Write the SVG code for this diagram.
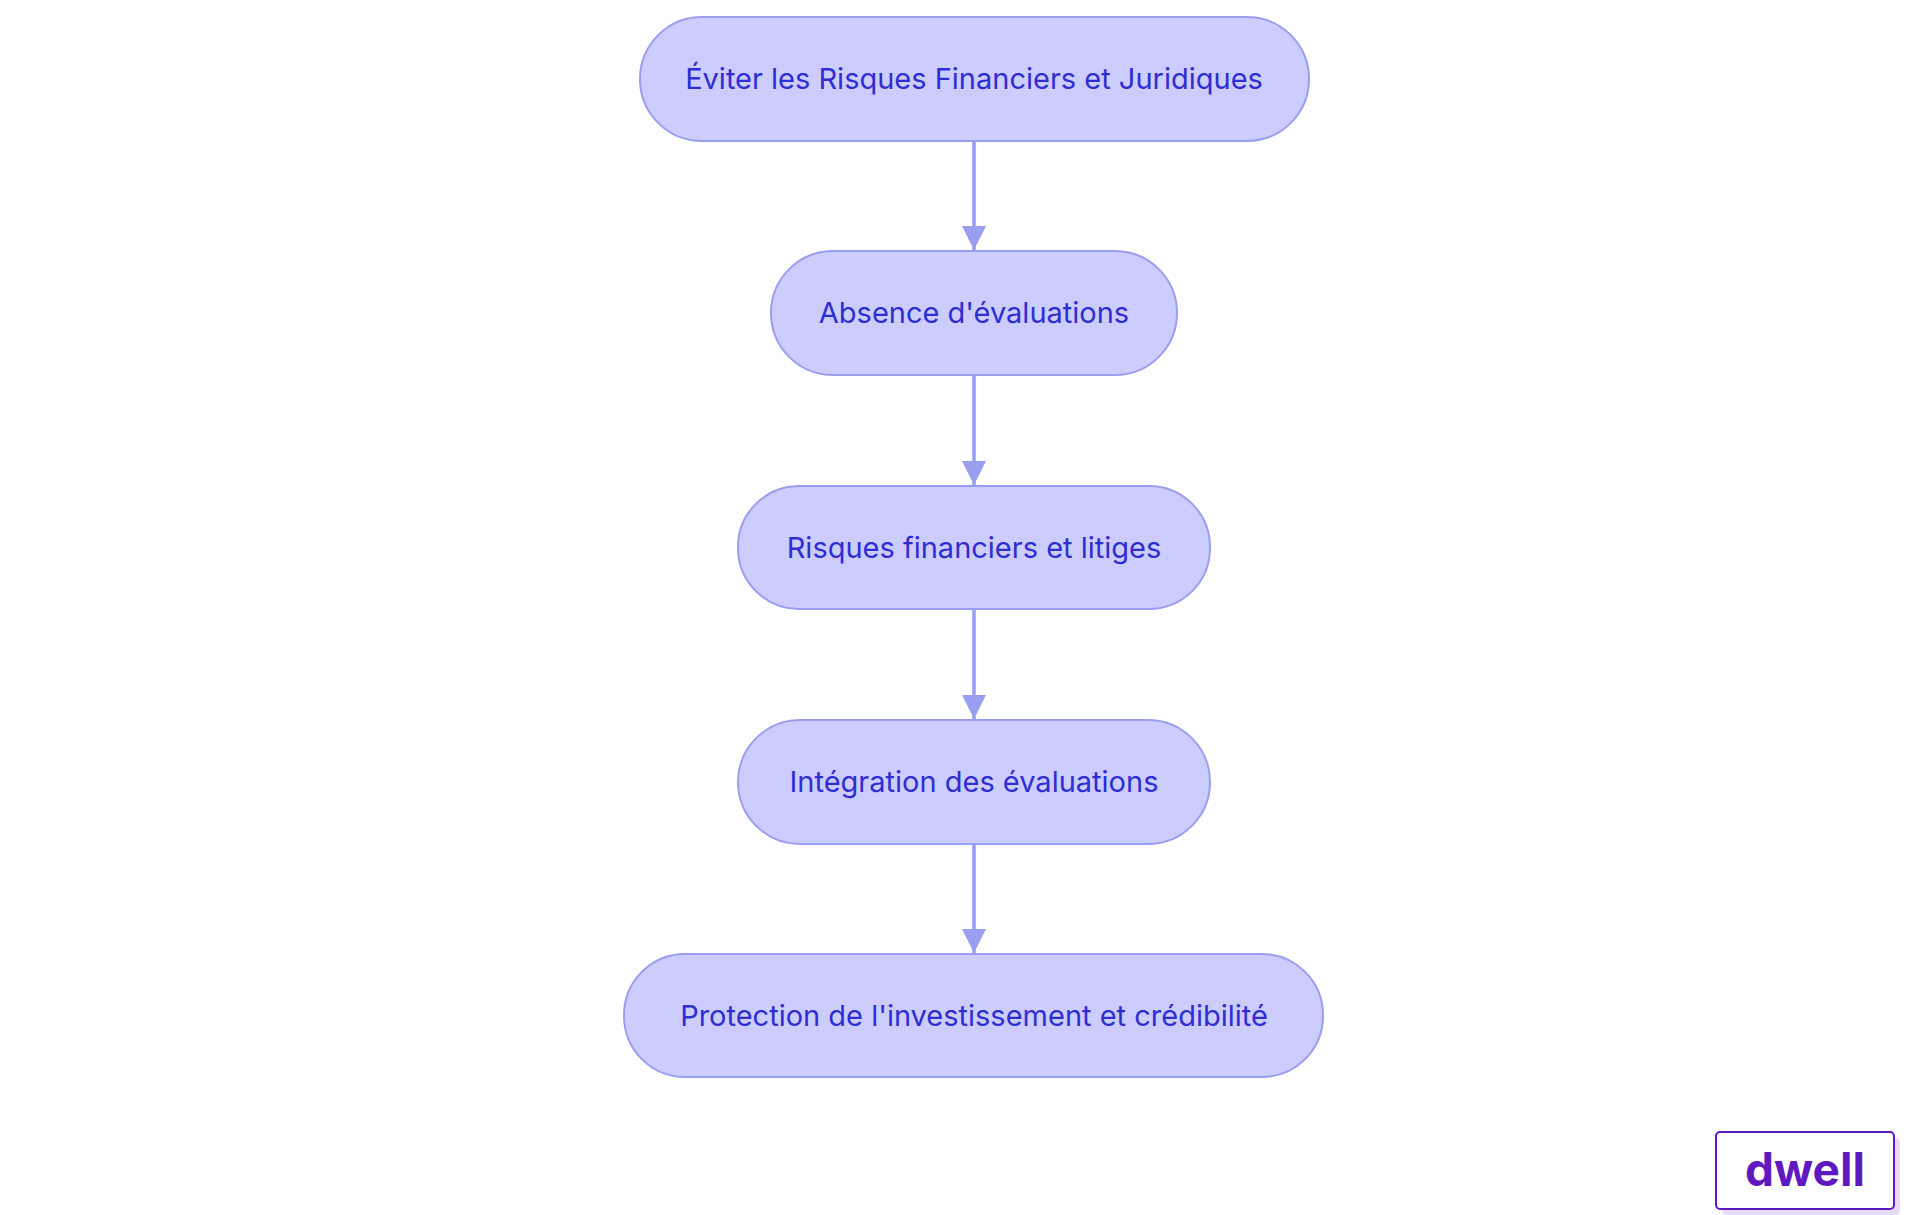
<svg xmlns="http://www.w3.org/2000/svg" width="1920" height="1215" viewBox="0 0 1920 1215">
<style>
.n rect{fill:#ccccff;stroke:#9a9ef0;stroke-width:2}
.n text{font-family:Inter,"Noto Sans",sans-serif;font-size:29px;fill:#2e2ed2;text-anchor:middle;dominant-baseline:central}
.e{stroke:#9a9ef0;stroke-width:3.5;fill:none;marker-end:url(#a)}
</style>
<defs><marker id="a" markerWidth="8" markerHeight="8" refX="7" refY="4" orient="auto" markerUnits="strokeWidth"><path d="M0,0.5 L7,4 L0,7.5 Z" fill="#9a9ef0"/></marker></defs>
<rect width="1920" height="1215" fill="#fff"/>
<g id="edges">
<line class="e" x1="974" y1="141" x2="974" y2="250"/>
<line class="e" x1="974" y1="375" x2="974" y2="485"/>
<line class="e" x1="974" y1="609" x2="974" y2="719"/>
<line class="e" x1="974" y1="844" x2="974" y2="953"/>
</g>
<g id="n1" class="n"><rect x="640" y="17" width="669" height="124" rx="62"/><text x="974" y="78">Éviter les Risques Financiers et Juridiques</text></g>
<g id="n2" class="n"><rect x="771" y="251" width="406" height="124" rx="62"/><text x="974" y="312">Absence d'évaluations</text></g>
<g id="n3" class="n"><rect x="738" y="486" width="472" height="123" rx="61"/><text x="974" y="547">Risques financiers et litiges</text></g>
<g id="n4" class="n"><rect x="738" y="720" width="472" height="124" rx="62"/><text x="974" y="781">Intégration des évaluations</text></g>
<g id="n5" class="n"><rect x="624" y="954" width="699" height="123" rx="61"/><text x="974" y="1015">Protection de l'investissement et crédibilité</text></g>
<g id="logo">
<rect x="1722" y="1138" width="178" height="77" rx="4" fill="#e6dcf7"/>
<rect x="1716" y="1132" width="178" height="77" rx="4" fill="#fff" stroke="#6019c0" stroke-width="2"/>
<text x="1805" y="1186" font-family="Inter,'Noto Sans',sans-serif" font-weight="bold" font-size="46" fill="#6019c0" text-anchor="middle">dwell</text>
</g>
</svg>
